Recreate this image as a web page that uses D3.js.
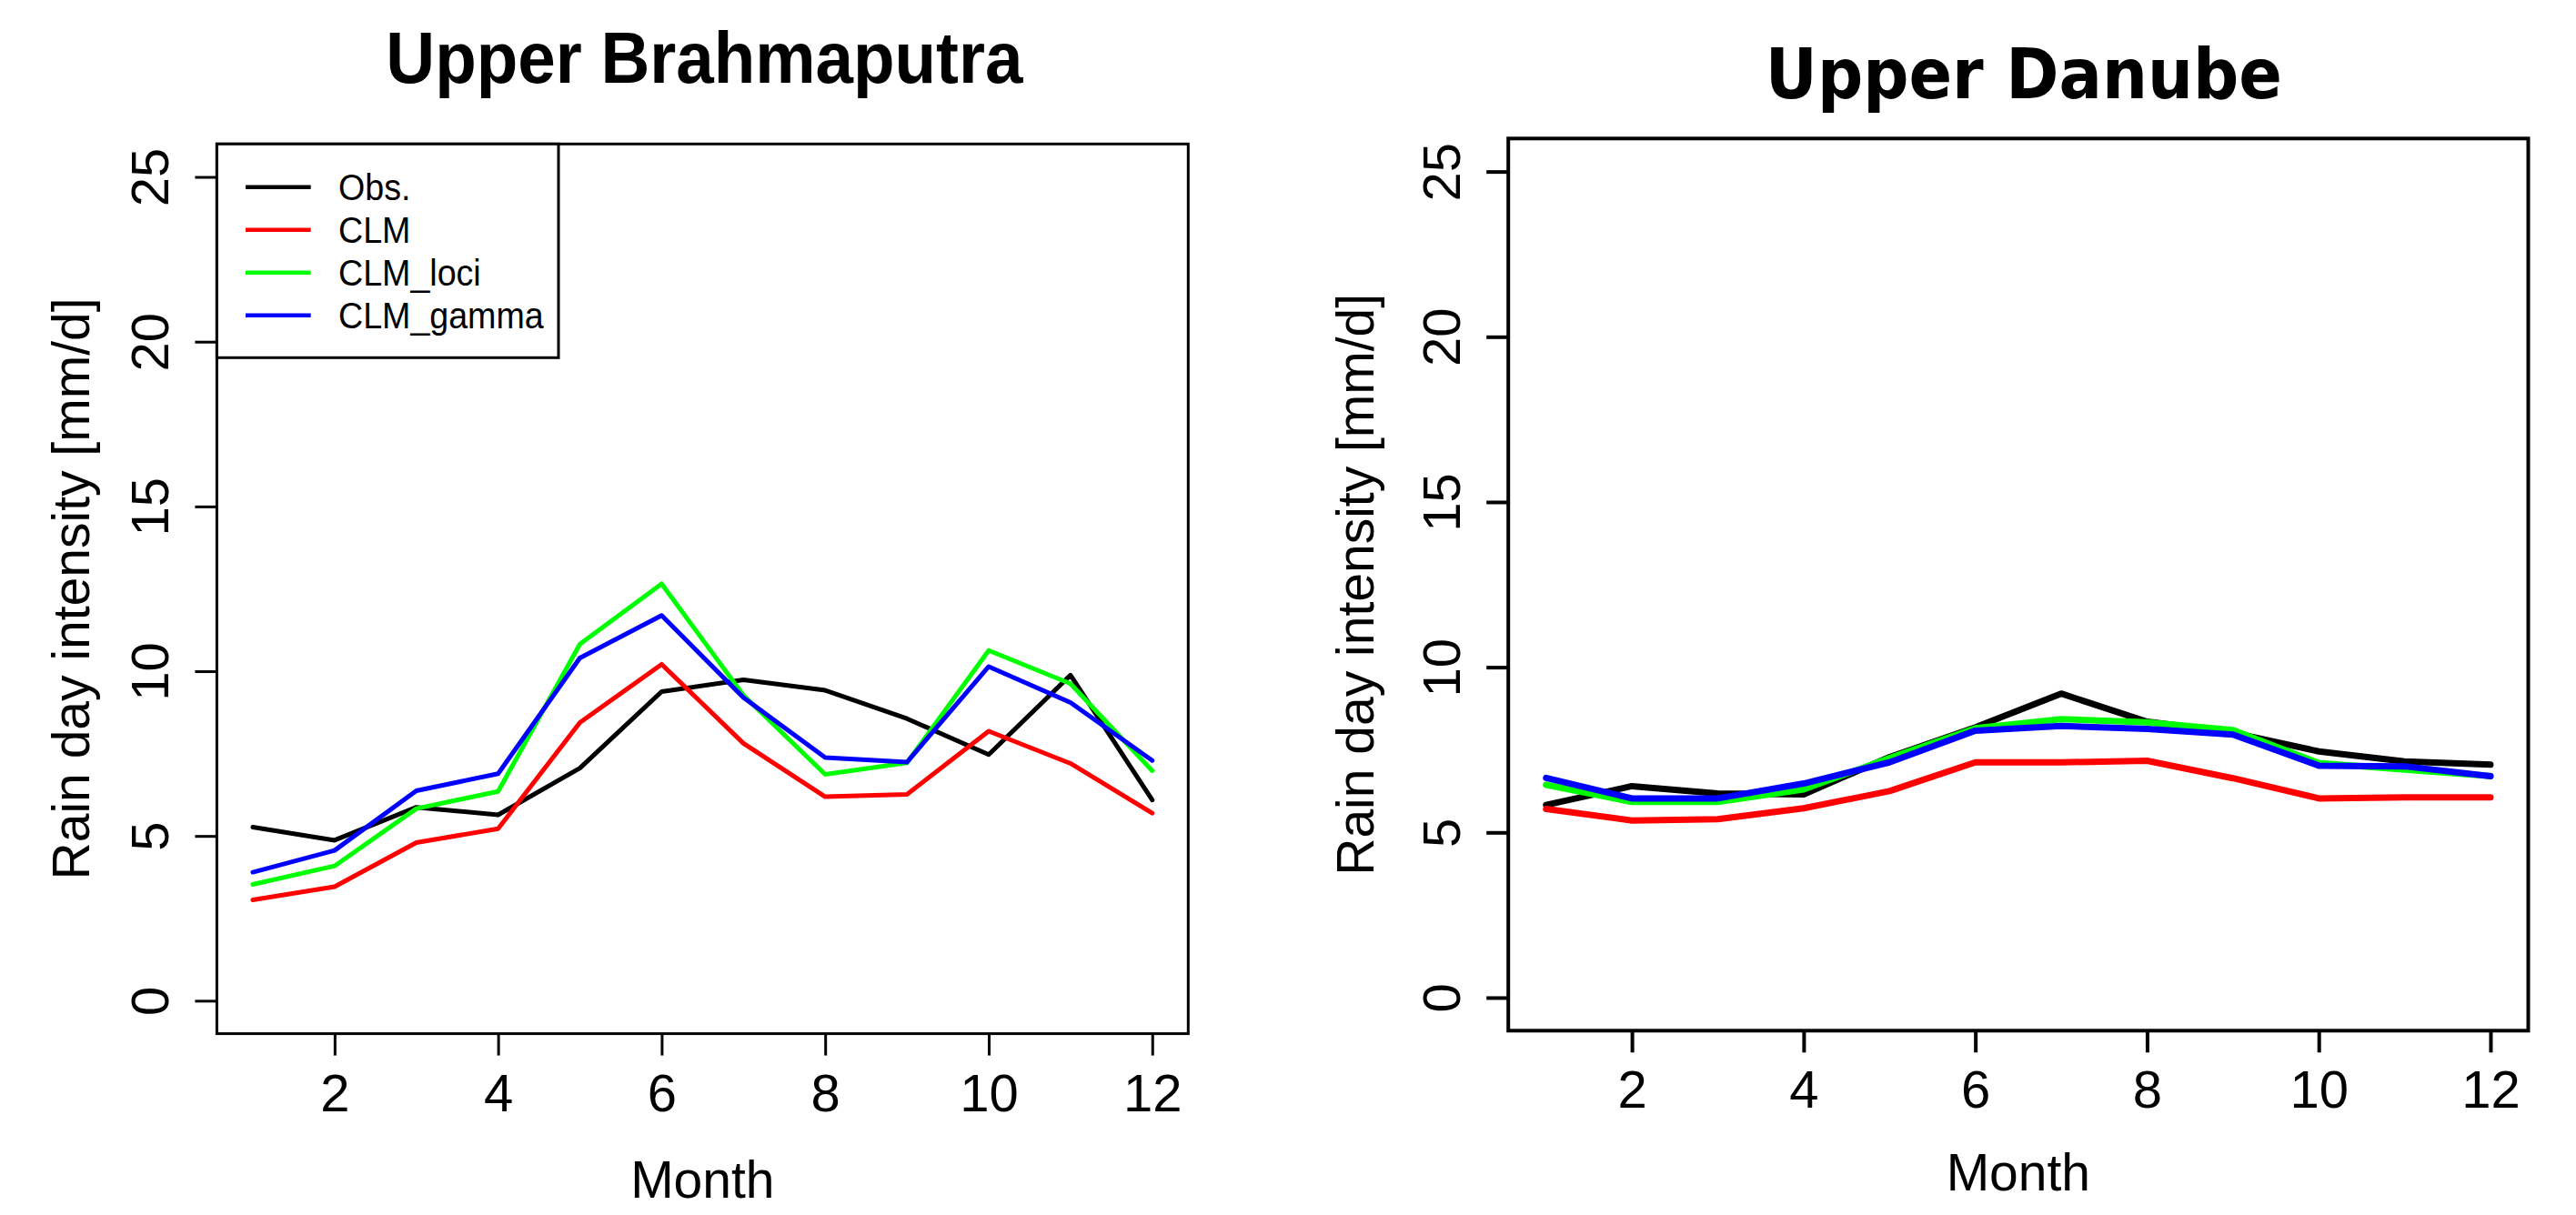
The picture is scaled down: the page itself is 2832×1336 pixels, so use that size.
<!DOCTYPE html>
<html>
 <head>
   <meta charset="utf-8">
   <title>Rain day intensity</title>
   <script src="https://cdn.jsdelivr.net/npm/d3@7/dist/d3.min.js"></script>
   <style>
     body { margin: 0; background: #fff; }
     text { font-family: "Liberation Sans", Arial, Helvetica, sans-serif; fill: #000; }
   </style>
 </head>
 <body>
  <script>
    var months = [1,2,3,4,5,6,7,8,9,10,11,12];
    var seriesNames  = ["Obs.", "CLM", "CLM_loci", "CLM_gamma"];
    var seriesColors = ["#000000", "#ff0000", "#00ff00", "#0000ff"];
    var xTicks = [2,4,6,8,10,12];
    var yTicks = [0,5,10,15,20,25];

    // Upper Brahmaputra
    var brahObs   = [5.27, 4.87, 5.87, 5.64, 7.06, 9.38, 9.74, 9.42, 8.56, 7.47, 9.88, 6.09];
    var brahClm   = [3.06, 3.46, 4.80, 5.22, 8.44, 10.21, 7.81, 6.19, 6.26, 8.18, 7.20, 5.69];
    var brahLoci  = [3.53, 4.09, 5.83, 6.35, 10.82, 12.65, 9.27, 6.87, 7.22, 10.63, 9.62, 6.98];
    var brahGamma = [3.90, 4.56, 6.37, 6.89, 10.40, 11.69, 9.20, 7.38, 7.24, 10.14, 9.05, 7.29];

    // Upper Danube
    var danObs   = [5.83, 6.40, 6.18, 6.15, 7.28, 8.18, 9.20, 8.35, 8.02, 7.45, 7.15, 7.05];
    var danClm   = [5.71, 5.36, 5.40, 5.73, 6.25, 7.12, 7.12, 7.17, 6.64, 6.03, 6.06, 6.06];
    var danLoci  = [6.44, 5.92, 5.92, 6.30, 7.25, 8.15, 8.43, 8.33, 8.10, 7.10, 6.90, 6.71];
    var danGamma = [6.65, 6.03, 6.03, 6.48, 7.12, 8.08, 8.22, 8.13, 7.96, 7.02, 7.00, 6.70];

    var width = 2832, height = 1336;
    var svg = d3.select("body").append("svg")
                .attr("width", width)
                .attr("height", height);

    function drawPanel(p) {
      var x = d3.scaleLinear().domain([0.56, 12.44]).range([p.left, p.right]);
      var y = d3.scaleLinear().domain([-1, 26]).range([p.bottom, p.top]);
      var g = svg.append("g");

      // lines
      var line = d3.line()
                   .x(function(d, i) { return x(months[i]); })
                   .y(function(d) { return y(d); });
      p.series.forEach(function(s, k) {
        g.append("path")
         .attr("d", line(s))
         .attr("fill", "none")
         .attr("stroke", seriesColors[k])
         .attr("stroke-width", p.lineWidth)
         .attr("stroke-linejoin", "round")
         .attr("stroke-linecap", "round");
      });

      // x axis
      var xa = g.append("g")
                .attr("transform", "translate(0," + p.bottom + ")")
                .call(d3.axisBottom(x).tickValues(xTicks).tickSize(24).tickFormat(d3.format("d")));
      xa.select(".domain").remove();
      xa.selectAll("line").attr("stroke", "#000").attr("stroke-width", p.tickWidth);
      xa.selectAll("text")
        .attr("y", 85).attr("dy", 0)
        .style("font-size", "58px")
        .style("font-family", "Liberation Sans, Arial, sans-serif");

      // y axis
      var ya = g.append("g")
                .attr("transform", "translate(" + p.left + ",0)")
                .call(d3.axisLeft(y).tickValues(yTicks).tickSize(24).tickFormat(d3.format("d")));
      ya.select(".domain").remove();
      ya.selectAll("line").attr("stroke", "#000").attr("stroke-width", p.tickWidth);
      ya.selectAll("text")
        .attr("x", 0).attr("dy", 0)
        .attr("transform", "translate(-53,0) rotate(-90)")
        .attr("text-anchor", "middle")
        .style("font-size", "58px")
        .style("font-family", "Liberation Sans, Arial, sans-serif");

      // box
      g.append("rect")
       .attr("x", p.left).attr("y", p.top)
       .attr("width", p.right - p.left).attr("height", p.bottom - p.top)
       .attr("fill", "none").attr("stroke", "#000").attr("stroke-width", p.boxWidth);

      // titles
      g.append("text")
       .attr("x", (p.left + p.right) / 2 + p.titleShift).attr("y", p.titleY)
       .attr("text-anchor", "middle")
       .attr("textLength", p.titleLength)
       .attr("lengthAdjust", "spacingAndGlyphs")
       .style("font-family", p.titleFont)
       .style("font-weight", "bold")
       .style("font-size", p.titleSize + "px")
       .text(p.title);

      g.append("text")
       .attr("x", (p.left + p.right) / 2).attr("y", p.monthY)
       .attr("text-anchor", "middle")
       .style("font-size", "57px")
       .text("Month");

      g.append("text")
       .attr("transform", "translate(" + p.ylabX + "," + (p.top + p.bottom) / 2 + ") rotate(-90)")
       .attr("text-anchor", "middle")
       .style("font-size", "57px")
       .text("Rain day intensity [mm/d]");

      if (p.legend) {
        var lg = g.append("g");
        lg.append("rect")
          .attr("x", p.left).attr("y", p.top)
          .attr("width", 614 - p.left).attr("height", 393.3 - p.top)
          .attr("fill", "#fff").attr("stroke", "#000").attr("stroke-width", 3);
        seriesNames.forEach(function(name, k) {
          var ry = 205.7 + k * 47;
          lg.append("line")
            .attr("x1", 270).attr("x2", 341.7)
            .attr("y1", ry).attr("y2", ry)
            .attr("stroke", seriesColors[k]).attr("stroke-width", 4.5);
          var t = lg.append("text")
            .attr("x", 372).attr("y", ry + 14.2)
            .style("font-size", "40px")
            .text(name);
          var w = t.node().getComputedTextLength();
          t.attr("textLength", w * 0.94).attr("lengthAdjust", "spacingAndGlyphs");
        });
      }
    }

    drawPanel({
      left: 238.4, right: 1306.3, top: 158.3, bottom: 1136.6,
      series: [brahObs, brahClm, brahLoci, brahGamma],
      lineWidth: 5, tickWidth: 3, boxWidth: 3,
      title: "Upper Brahmaputra", titleFont: "Liberation Sans Narrow, Liberation Sans, Arial, sans-serif",
      titleSize: 80, titleY: 91, titleLength: 700, titleShift: 2,
      monthY: 1317, ylabX: 98, legend: true
    });

    drawPanel({
      left: 1658.2, right: 2779.5, top: 152.3, bottom: 1133.3,
      series: [danObs, danClm, danLoci, danGamma],
      lineWidth: 7, tickWidth: 4, boxWidth: 4,
      title: "Upper Danube", titleFont: "DejaVu Sans, sans-serif",
      titleSize: 77, titleY: 108, titleLength: 568, titleShift: 6,
      monthY: 1309, ylabX: 1510, legend: false
    });
  </script>
 </body>
</html>
